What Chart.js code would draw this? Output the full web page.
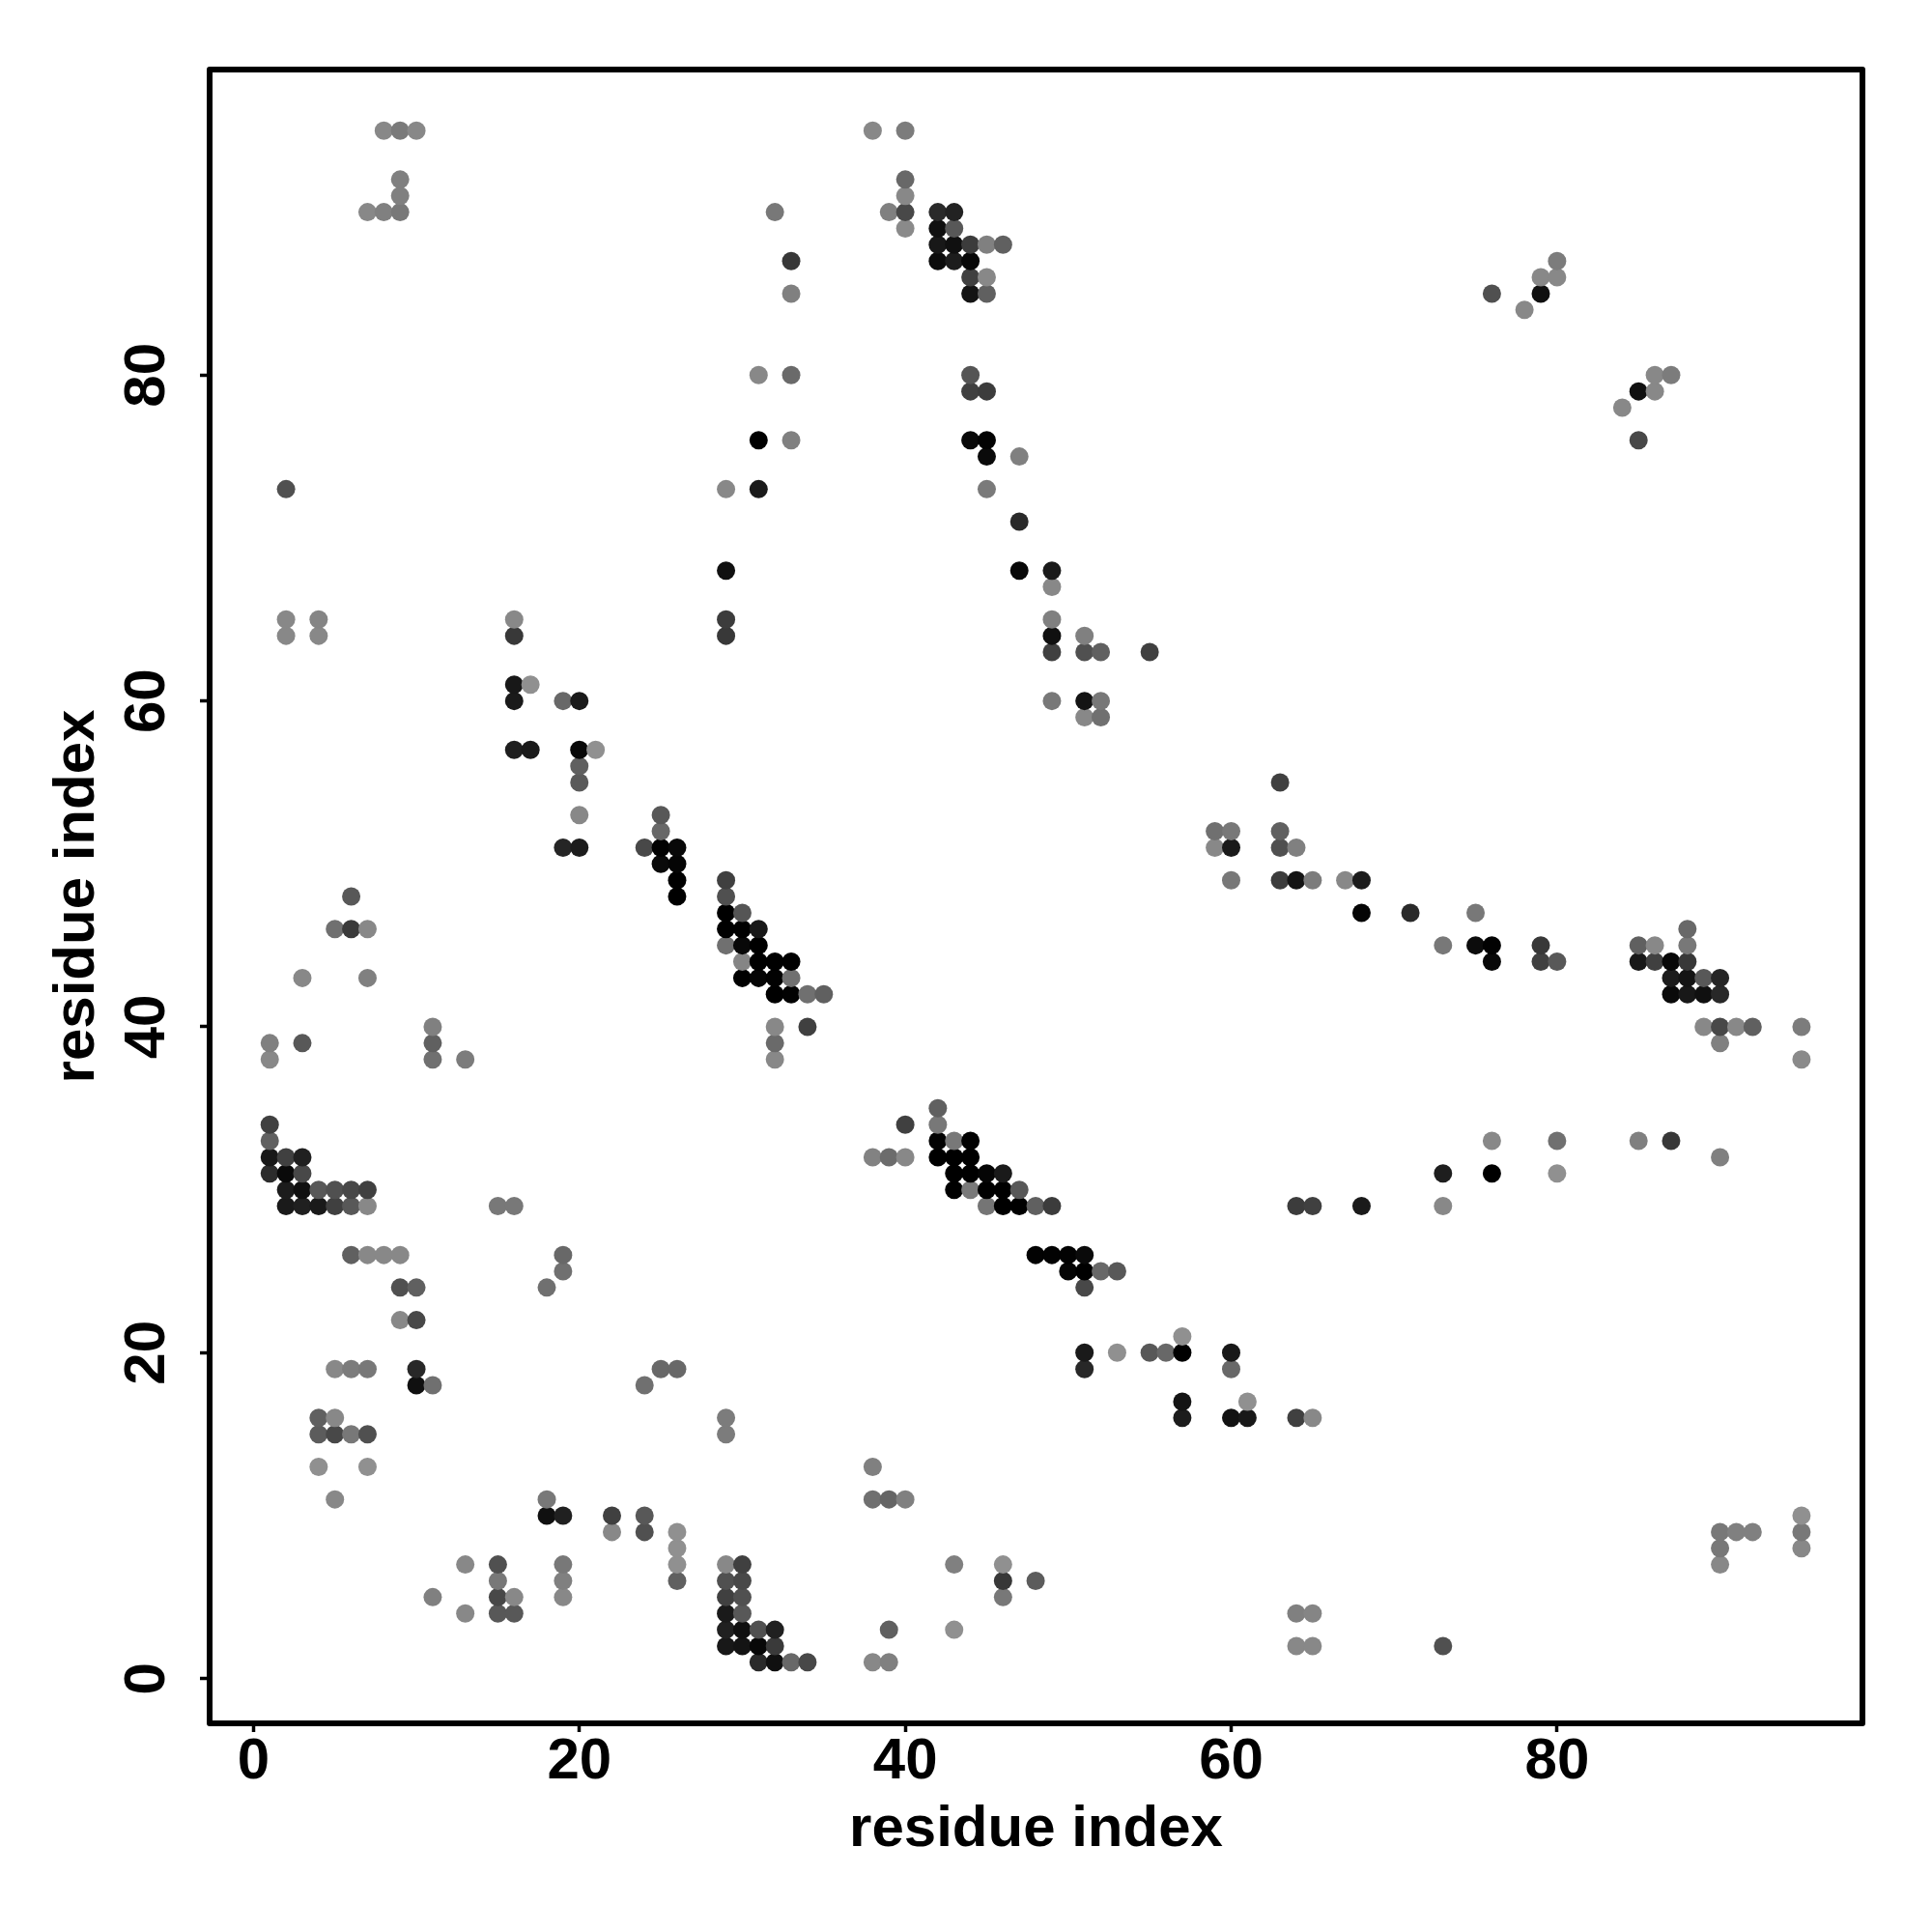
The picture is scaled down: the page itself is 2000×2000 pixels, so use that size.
<!DOCTYPE html>
<html>
<head>
<meta charset="utf-8">
<title>residue contacts</title>
<script src="https://cdn.jsdelivr.net/npm/chart.js@4"></script>
<style>
  html, body { margin: 0; padding: 0; background: #fff; }
  canvas { display: block; }
</style>
</head>
<body>
<canvas id="contact-chart" width="2000" height="2000"></canvas>
<script>
// contacts, one entry per row of the map
const rowIndex = [95, 92, 91, 90, 89, 88, 87, 86, 85, 84, 80, 79, 78, 76, 75, 73, 71, 68, 67, 65, 64, 63, 61, 60, 59, 57, 56, 55, 53, 52, 51, 50, 49, 48, 47, 46, 45, 44, 43, 42, 40, 39, 38, 35, 34, 33, 32, 31, 30, 29, 26, 25, 24, 22, 21, 20, 19, 18, 17, 16, 15, 13, 11, 10, 9, 8, 7, 6, 5, 4, 3, 2, 1];

const rowResidues = [
  [8, 9, 10, 38, 40], [9, 40], [9, 40], [7, 8, 9, 32, 39, 40, 42, 43], [40, 42, 43],
  [42, 43, 44, 45, 46], [33, 42, 43, 44, 80], [44, 45, 79, 80], [33, 44, 45, 76, 79], [78],
  [31, 33, 44, 86, 87], [44, 45, 85, 86], [84], [31, 33, 44, 45, 85], [45, 47],
  [2, 29, 31, 45], [47], [29, 47, 49], [49], [2, 4, 16, 29, 49],
  [2, 4, 16, 29, 49, 51], [49, 51, 52, 55], [16, 17], [16, 19, 20, 49, 51, 52], [51, 52],
  [16, 17, 20, 21], [20], [20, 63], [20, 25], [25, 59, 60, 63],
  [19, 20, 24, 25, 26, 59, 60, 63, 64], [25, 26], [26, 29, 60, 63, 64, 65, 67, 68], [6, 26, 29], [29, 30, 68, 71, 75],
  [5, 6, 7, 29, 30, 31, 88], [29, 30, 31, 73, 75, 76, 79, 85, 86, 88], [30, 31, 32, 33, 76, 79, 80, 85, 86, 87, 88], [3, 7, 30, 31, 32, 33, 87, 88, 89, 90], [32, 33, 34, 35, 87, 88, 89, 90],
  [11, 32, 34, 89, 90, 91, 92, 95], [1, 3, 11, 32, 90], [1, 11, 13, 32, 95], [42], [1, 40, 42],
  [1, 42, 43, 44, 76, 80, 85, 87], [1, 2, 3, 38, 39, 40, 42, 43, 44, 90], [1, 2, 3, 43, 44, 45, 46, 73, 76, 80], [2, 3, 4, 5, 6, 7, 43, 44, 45, 46, 47], [2, 3, 4, 5, 6, 7, 15, 16, 45, 46, 47, 48, 49, 64, 65, 68, 73],
  [6, 7, 8, 9, 19, 48, 49, 50, 51], [19, 50, 51, 52, 53], [9, 10, 18, 51], [9, 10], [57],
  [51, 53, 55, 56, 57, 60], [5, 6, 7, 10, 25, 26, 51, 60], [10, 11, 24], [57, 61], [4, 5, 29, 57, 60, 61, 64, 65],
  [4, 5, 6, 7, 29], [4, 7, 38], [5, 18, 38, 39, 40], [18, 19, 22, 24, 95], [22, 24, 26, 90, 91, 92, 95],
  [26, 90, 95], [13, 15, 19, 26, 29, 30, 43, 46, 90], [15, 19, 26, 29, 30, 46, 48], [11, 15, 16, 19, 29, 30, 46], [13, 15, 16, 29, 30, 64, 65],
  [29, 30, 31, 32, 39, 43], [29, 30, 31, 32, 64, 65, 73], [31, 32, 33, 34, 38, 39]
];

// contact strength, 0 (weakest) to 144 (strongest)
const rowStrengths = [
  [8, 22, 8, 8, 20], [16, 40], [16, 8], [8, 16, 24, 24, 16, 72, 102, 110], [6, 128, 56],
  [120, 128, 84, 16, 48], [88, 132, 116, 136, 20], [80, 8, 8, 8], [16, 124, 48, 64, 128], [8],
  [8, 38, 59, 8, 20], [80, 84, 128, 8], [8], [144, 16, 136, 142, 72], [134, 16],
  [64, 8, 118, 22], [102], [128, 136, 118], [8], [8, 11, 8, 84, 16],
  [8, 8, 88, 88, 128, 16], [80, 64, 48, 80], [120, 0], [118, 40, 118, 24, 124, 24], [8, 32],
  [114, 118, 136, 0], [48], [54, 80], [8, 56], [40, 32, 24, 48],
  [107, 116, 72, 142, 136, 8, 118, 64, 16], [134, 139], [144, 80, 24, 84, 124, 20, 8, 116], [56, 144, 64], [144, 59, 139, 102, 24],
  [32, 86, 8, 144, 144, 120, 40], [32, 136, 144, 24, 132, 142, 88, 48, 8, 24], [11, 144, 144, 144, 136, 80, 56, 120, 80, 136, 88], [8, 16, 144, 139, 142, 32, 116, 124, 56, 107], [144, 142, 32, 48, 134, 120, 128, 104],
  [16, 8, 80, 8, 72, 8, 48, 20], [16, 56, 48, 38, 16], [8, 32, 20, 8, 6], [48], [80, 80, 24],
  [48, 142, 24, 142, 8, 32, 16, 88], [120, 80, 112, 14, 36, 8, 144, 144, 144, 16], [100, 134, 72, 144, 144, 139, 118, 114, 144, 0], [116, 128, 56, 64, 72, 80, 144, 22, 144, 144, 56], [118, 112, 118, 80, 56, 8, 24, 24, 27, 144, 144, 48, 84, 84, 80, 118, 8],
  [48, 8, 8, 8, 40, 142, 142, 142, 134], [32, 139, 144, 40, 56], [64, 48, 32, 72], [8, 72], [0],
  [118, 0, 56, 40, 144, 120], [8, 20, 24, 104, 40, 40, 104, 40], [128, 32, 32], [124, 0], [48, 8, 20, 116, 126, 120, 80, 8],
  [52, 72, 24, 64, 20], [0, 0, 16], [8, 24, 32, 43, 16], [128, 112, 80, 56, 0], [8, 64, 0, 24, 16, 16, 24],
  [0, 24, 8], [8, 64, 24, 0, 8, 80, 16, 0, 8], [24, 16, 48, 64, 72, 88, 52], [16, 72, 8, 8, 80, 64, 24], [8, 56, 56, 118, 56, 16, 11],
  [112, 128, 64, 112, 48, 0], [120, 124, 136, 86, 8, 8, 64], [102, 128, 40, 72, 8, 16]
];

const tickValues = [0, 20, 40, 60, 80];
const axisTitle = 'residue index';

const contacts = [];
rowIndex.forEach((y, r) => {
  rowResidues[r].forEach((x, c) => {
    contacts.push({ x: x, y: y, strength: rowStrengths[r][c] });
  });
});
// the original plots column by column, so later points sit on top
contacts.sort((a, b) => a.x - b.x || a.y - b.y);

function shade(strength) {
  const g = 144 - strength;
  return `rgb(${g},${g},${g})`;
}

const boxPlugin = {
  id: 'box',
  afterDraw(chart) {
    const { ctx, chartArea } = chart;
    ctx.save();
    ctx.strokeStyle = '#000';
    ctx.lineWidth = 6;
    ctx.lineJoin = 'round';
    ctx.strokeRect(chartArea.left, chartArea.top, chartArea.right - chartArea.left, chartArea.bottom - chartArea.top);
    ctx.restore();
  }
};

const axisFont = { family: '"Liberation Sans"', weight: 'bold', size: 60 };

function useTickValues(scale) {
  scale.ticks = tickValues.map(v => ({ value: v }));
}

new Chart(document.getElementById('contact-chart'), {
  type: 'scatter',
  data: {
    datasets: [{
      data: contacts,
      pointRadius: 9.5,
      pointBorderWidth: 0,
      pointBackgroundColor: contacts.map(c => shade(c.strength))
    }]
  },
  options: {
    responsive: false,
    animation: false,
    layout: { padding: { top: 72, right: 72, left: 0, bottom: 0 } },
    plugins: { legend: { display: false }, tooltip: { enabled: false } },
    scales: {
      x: {
        min: -2.69,
        max: 98.74,
        afterBuildTicks: useTickValues,
        afterFit(scale) { scale.height = 216; },
        border: { display: false },
        grid: { drawOnChartArea: false, tickLength: 9, tickWidth: 3.5, tickColor: '#000' },
        ticks: { font: axisFont, color: '#000', padding: -5, maxRotation: 0, autoSkip: false },
        title: { display: true, text: axisTitle, font: axisFont, color: '#000', padding: { top: 0, bottom: 70 } }
      },
      y: {
        min: -2.745,
        max: 98.75,
        afterBuildTicks: useTickValues,
        afterFit(scale) { scale.width = 217; },
        border: { display: false },
        grid: { drawOnChartArea: false, tickLength: 10, tickWidth: 3.5, tickColor: '#000' },
        ticks: { font: axisFont, color: '#000', padding: 20, minRotation: 90, maxRotation: 90, crossAlign: 'center', autoSkip: false },
        title: { display: true, text: axisTitle, font: axisFont, color: '#000', padding: { top: 44, bottom: 0 } }
      }
    }
  },
  plugins: [boxPlugin]
});
</script>
</body>
</html>
